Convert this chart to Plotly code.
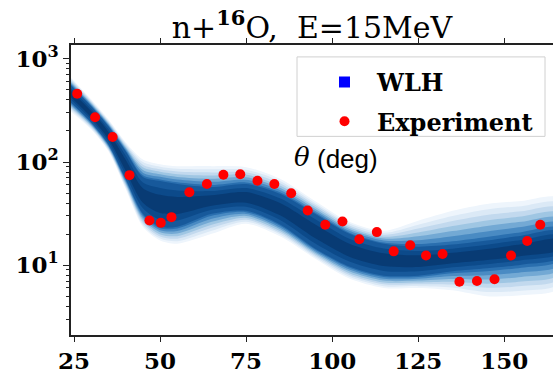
import numpy as np
import plotly.graph_objects as go

# ---- data ----
exp_theta = [25.9, 31.1, 36.2, 41.1, 46.9, 50.2, 53.3, 58.5, 63.6, 68.4, 73.3, 78.3,
             83.2, 88.1, 92.9, 98.0, 103.0, 107.9, 113.0, 117.9, 122.7, 127.3, 132.1,
             137.0, 142.1, 147.2, 152.0, 156.7, 160.5]
exp_xs = [460, 272, 175, 74.6, 27.1, 25.7, 29.2, 50.8, 61.1, 75.2, 76.2, 65.8,
          61.1, 49.7, 33.8, 24.6, 26.5, 17.8, 20.9, 13.6, 15.6, 12.4, 12.8,
          6.9, 7.0, 7.3, 12.4, 17.1, 24.6]

# WLH posterior band (outer light envelope and dark core)
band_theta = [23, 30, 35, 40, 45, 50, 55, 65, 75, 85, 95, 105, 115, 125, 135, 145, 155, 166]
outer_hi = [720, 403, 258, 155, 106, 95.3, 91.2, 91.2, 89.1, 68.3, 41.9, 26.3, 21.5, 26.9, 33.6, 39.2, 41.9, 44.5]
outer_lo = [330, 207, 127, 54.7, 23.5, 17.3, 16.1, 20.1, 25.2, 18.9, 11.6, 7.4, 6.0, 6.0, 5.7, 5.0, 5.1, 6.0]
core_hi = [600, 345, 221, 127, 71.4, 65.3, 61.1, 57.1, 61.1, 49.0, 31.4, 20.1, 16.1, 15.1, 15.8, 17.3, 19.3, 21.3]
core_lo = [410, 242, 148, 68.3, 31.4, 23.5, 23.5, 31.4, 33.6, 24.6, 14.5, 9.7, 7.9, 7.9, 8.7, 9.3, 10.1, 11.8]

x_ticks = [25, 50, 75, 100, 125, 150]
y_ticks = [10, 100, 1000]
y_ticktext = ["10<sup>1</sup>", "10<sup>2</sup>", "10<sup>3</sup>"]

# ---- figure ----
fig = go.Figure()

lo_o, hi_o = np.log10(outer_lo), np.log10(outer_hi)
lo_c, hi_c = np.log10(core_lo), np.log10(core_hi)
mid_c = (lo_c + hi_c) / 2

# density shading: layer position between outer envelope (0) and core (1), beyond 1 toward centre
layers = [
    (0.0, "#eef5fc"),
    (0.15, "#dbe9f6"),
    (0.3, "#c2d9ee"),
    (0.45, "#9fc6e3"),
    (0.6, "#73a9d4"),
    (0.75, "#4a8bc3"),
    (0.9, "#2a6faf"),
    (1.0, "#17599b"),
    (1.3, "#0c4a8a"),
    (1.6, "#083b74"),
]
bx = list(band_theta)
for t, col in layers:
    if t <= 1.0:
        lo = lo_o * (1 - t) + lo_c * t
        hi = hi_o * (1 - t) + hi_c * t
    else:
        s = (t - 1.0)
        lo = lo_c * (1 - s) + mid_c * s
        hi = hi_c * (1 - s) + mid_c * s
    xs = bx + bx[::-1]
    ys = list(10 ** hi) + list((10 ** lo)[::-1])
    fig.add_trace(go.Scatter(x=xs, y=ys, mode="lines", fill="toself", fillcolor=col,
                             line=dict(width=0, shape="spline", smoothing=0.8),
                             hoverinfo="skip", showlegend=False))

fig.add_trace(go.Scatter(x=[None], y=[None], mode="markers", name="WLH",
                         marker=dict(symbol="square", color="#0000ff", size=11),
                         legendgroup="a"))
fig.add_trace(go.Scatter(x=exp_theta, y=exp_xs, mode="markers", name="Experiment",
                         marker=dict(color="#ff0000", size=10, line=dict(width=0)),
                         legendgroup="b"))

W, H = 553, 374
L, R, T, B = 71, 0, 45, 37
pw, ph = W - L - R, H - T - B


def px_x(p):
    return (p - L) / pw


def px_y(p):
    return 1 - (p - T) / ph


tick_font = dict(family="DejaVu Serif", size=23, color="black", weight="bold")

fig.update_layout(
    width=W, height=H,
    margin=dict(l=L, r=R, t=T, b=B),
    paper_bgcolor="white", plot_bgcolor="white",
    title=dict(text="n+<b><sup>16</sup></b>O,\u00a0 E=15MeV", x=0.5, xref="paper",
               xanchor="center", y=1 - 27 / H, yref="container", yanchor="middle",
               font=dict(family="DejaVu Serif", size=30, color="black")),
    xaxis=dict(range=[24.1, 164.2], tickvals=x_ticks, ticks="outside", ticklen=5,
               tickwidth=1.2, tickcolor="#222", showline=True, linecolor="#222",
               linewidth=1.5, mirror="ticks", showgrid=False, zeroline=False,
               tickfont=tick_font),
    yaxis=dict(type="log", range=[0.322, 3.135], tickvals=y_ticks, ticktext=y_ticktext,
               ticks="outside", ticklen=6, tickwidth=1.2, tickcolor="#222",
               showline=True, linecolor="#222", linewidth=1.5, showgrid=False,
               zeroline=False, tickfont=tick_font,
               minor=dict(ticks="outside", ticklen=3, tickcolor="#222", dtick="D1",
                          showgrid=False)),
    legend=dict(x=px_x(312), y=px_y(60), xanchor="left", yanchor="top",
                bgcolor="rgba(0,0,0,0)", borderwidth=0, itemwidth=55,
                tracegroupgap=5,
                font=dict(family="DejaVu Serif", size=24, color="black", weight="bold")),
    shapes=[dict(type="rect", xref="paper", yref="paper",
                 x0=px_x(297), x1=px_x(545), y0=px_y(137), y1=px_y(57),
                 line=dict(color="#d0d0d0", width=1), fillcolor="rgba(255,255,255,0.8)",
                 layer="above")],
    annotations=[
        dict(text="<i>θ</i>", xref="paper", yref="paper", x=px_x(292), y=px_y(158),
             xanchor="left", yanchor="middle", showarrow=False,
             font=dict(family="DejaVu Serif", size=26, color="black")),
        dict(text="(deg)", xref="paper", yref="paper", x=px_x(315), y=px_y(160),
             xanchor="left", yanchor="middle", showarrow=False,
             font=dict(family="Liberation Sans", size=26, color="black")),
    ],
)

fig.write_html("out.html")
